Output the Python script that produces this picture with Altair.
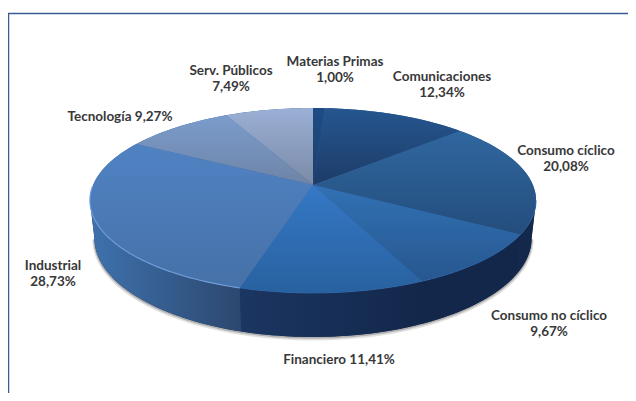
import math
import altair as alt

categories = ["Materias Primas", "Comunicaciones", "Consumo cíclico", "Consumo no cíclico",
              "Financiero", "Industrial", "Tecnología", "Serv. Públicos"]
values = [1.00, 12.34, 20.08, 9.67, 11.41, 28.73, 9.27, 7.49]

# --- layout of the perspective pie (page pixels) ---
CX, CY = 313.0, 185.0
A, B, C = 89.9, -0.1676, 219.9
DEPTH, SHRINK = 36.6, 0.98
W, H = 620, 385
PROJ = dict(type="identity", scale=1, translate=[-8, -8])


def top(t):
    v = -math.cos(t)
    d = 1 + B * v
    return CX + C * math.sin(t) / d, CY + A * v / d


def bottom(t):
    x, y = top(t)
    d = 1 + B * (-math.cos(t))
    return CX + (x - CX) * SHRINK, y + DEPTH / d


def arc(fn, t0, t1, n=60):
    return [list(fn(t0 + (t1 - t0) * i / n)) for i in range(n + 1)]


def poly(points):
    points = points + [points[0]]
    return {"type": "Feature", "properties": {}, "geometry": {"type": "Polygon", "coordinates": [points]}}


def path(points):
    return {"type": "Feature", "properties": {}, "geometry": {"type": "LineString", "coordinates": points}}


def grad(c0, c1, horizontal=False):
    return alt.Gradient(gradient="linear", x1=0, y1=0, x2=1 if horizontal else 0, y2=0 if horizontal else 1,
                        stops=[alt.GradientStop(offset=0, color=c0), alt.GradientStop(offset=1, color=c1)])


def shape(feature, fill):
    return alt.Chart(alt.Data(values=[feature])).mark_geoshape(fill=fill).project(**PROJ)


def line(feature, color, width, opacity=1.0):
    return alt.Chart(alt.Data(values=[feature])).mark_geoshape(
        filled=False, stroke=color, strokeWidth=width, opacity=opacity).project(**PROJ)


top_fill = [("#1f4c84", "#1c3f6c"), ("#25568f", "#1d3c68"), ("#30679f", "#234d7c"), ("#3171b4", "#27578f"),
            ("#3578c6", "#28619f"), ("#5082c3", "#4671a8"), ("#7b9ccc", "#6e84a6"), ("#9bb0d6", "#7a8aa6")]
wall_fill = {2: ("#14294d", "#12284a"), 3: ("#13274a", "#12274a"), 4: ("#1b3662", "#13274a"), 5: ("#3e72ad", "#2c476f")}

total = sum(values)
angles = [0.0]
for v in values:
    angles.append(angles[-1] + v / total * 2 * math.pi)

VIS0 = math.acos(B)  # right-most visible angle of the side wall
VIS1 = 2 * math.pi - VIS0

layers = []
# frame
layers.append(alt.Chart(alt.Data(values=[{"a": 0}])).mark_rule(color="#3a5c95", strokeWidth=1.5).encode(
    x=alt.value(0), x2=alt.value(W + 8), y=alt.value(5.5)))
layers.append(alt.Chart(alt.Data(values=[{"a": 0}])).mark_rule(color="#3a5c95", strokeWidth=1.5).encode(
    x=alt.value(0.5), y=alt.value(5), y2=alt.value(H + 8)))

# soft shadow under the wall
shadow = arc(bottom, VIS0, VIS1, 120)
layers.append(line(path([[x, y + 1.5] for x, y in shadow]), "#8a8a8a", 4, 0.25))
layers.append(line(path([[x, y + 0.8] for x, y in shadow]), "#777777", 2, 0.45))

# side wall: a dark base first, so that neighbouring pieces leave no seam
layers.append(shape(poly(arc(top, VIS1, VIS0, 120) + arc(bottom, VIS0, VIS1, 120)), "#14294d"))
for i in range(len(values)):
    t0, t1 = max(angles[i], VIS0), min(angles[i + 1], VIS1)
    if t1 <= t0:
        continue
    c0, c1 = wall_fill[i]
    pts = arc(top, t1, t0) + arc(bottom, t0, t1)
    layers.append(shape(poly(pts), grad(c0, c1, True)))

# top face
layers.append(shape(poly(arc(top, 0, 2 * math.pi, 180)), "#2f5f9c"))
for i in range(len(values)):
    pts = [[CX, CY]] + arc(top, angles[i], angles[i + 1])
    layers.append(shape(poly(pts), grad(*top_fill[i])))

# rim highlight
layers.append(line(path(arc(top, angles[5], VIS1 + 0.15)), "#6f9cd8", 1.2))
layers.append(line(path(arc(top, VIS0, angles[5])), "#2f64a6", 1.0, 0.8))

# labels
label_pos = [(335, 62, 2), (442, 77, 2), (566, 151, 2), (549, 316, 2), (339, 360, 1), (53, 266, 2), (120, 117, 1), (231, 71, 2)]
rows = []
for name, val, (x, y, n) in zip(categories, values, label_pos):
    pct = f"{val:.2f}".replace(".", ",") + "%"
    rows.append({"x": x - 8, "y": y - 8, "t": [name, pct] if n == 2 else f"{name} {pct}"})
for row in rows:
    layers.append(alt.Chart(alt.Data(values=[{"t": row["t"]}])).mark_text(
        font="Lato", fontSize=13.5, fontWeight="bold", color="#383838", align="center",
        baseline="middle", lineHeight=16, x=row["x"], y=row["y"]).encode(text="t:N"))

chart = alt.layer(*layers).properties(
    width=W, height=H, padding=0, autosize=alt.AutoSizeParams(type="none"),
    background="white").configure_view(stroke=None)
chart.save("out.html", embed_options={"renderer": "svg", "actions": False})
